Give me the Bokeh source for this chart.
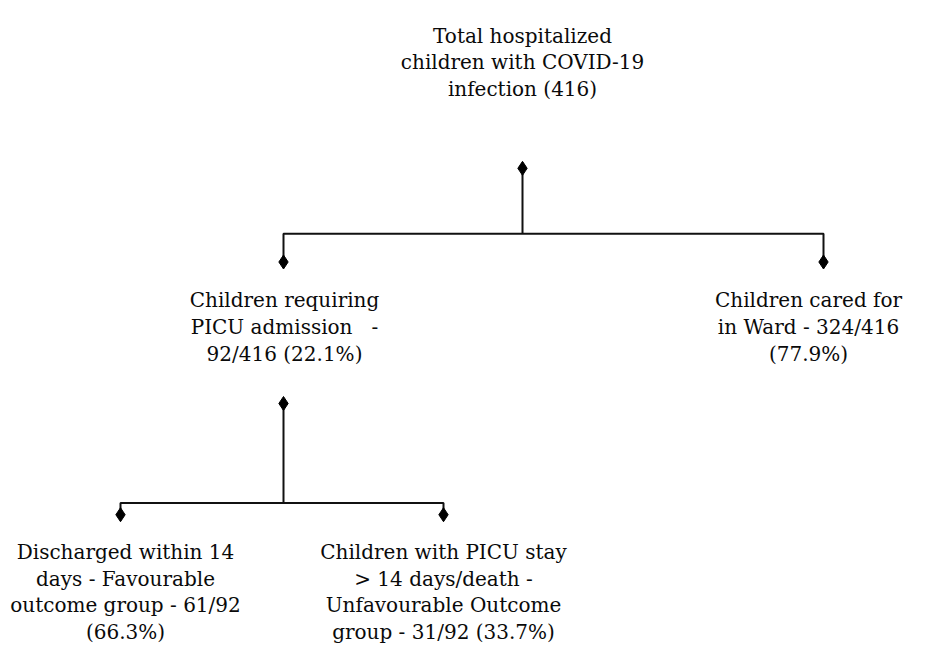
from bokeh.plotting import figure
from bokeh.embed import file_html
from bokeh.resources import INLINE
from bokeh.core.properties import value
from bokeh.models import ColumnDataSource

# Node labels (flowchart content)
top_label = ["Total hospitalized", "children with COVID-19", "infection (416)"]
picu_label = ["Children requiring", "PICU admission\u00a0\u00a0\u00a0-", "92/416 (22.1%)"]
ward_label = ["Children cared for", "in Ward - 324/416", "(77.9%)"]
fav_label = ["Discharged within 14", "days - Favourable", "outcome group - 61/92", "(66.3%)"]
unfav_label = ["Children with PICU stay", "> 14 days/death -", "Unfavourable Outcome", "group - 31/92 (33.7%)"]

W, H = 912, 644
p = figure(width=W, height=H, x_range=(6, 918), y_range=(660, 0),
           output_backend="svg", toolbar_location=None, min_border=0)
p.axis.visible = False
p.grid.visible = False
p.outline_line_color = None
p.background_fill_color = "white"

FONT = value("DejaVu Serif")
LH = 27.5

def label(lines, cx, y0):
    xs = [cx] * len(lines)
    ys = [y0 + i * LH for i in range(len(lines))]
    src = ColumnDataSource(dict(x=xs, y=ys, t=lines))
    p.text("x", "y", text="t", source=src, text_align="center", text_baseline="alphabetic",
           text_font=FONT, text_font_size="20px", text_color="#0a0a0a")

label(top_label, 528, 36)
label(picu_label, 290, 307)
label(ward_label, 814, 307)
label(fav_label, 131, 565)
label(unfav_label, 449, 565)

lc = "#111111"
lw = 2
# tree connectors
p.line([528, 528], [172, 239], line_color=lc, line_width=lw)
p.line([289, 289, 829, 829], [268, 239, 239, 268], line_color=lc, line_width=lw)
p.line([289, 289], [413, 515], line_color=lc, line_width=lw)
p.line([126, 126, 449, 449], [527, 515, 515, 527], line_color=lc, line_width=lw)

p.scatter([528, 289, 829, 289, 126, 449], [172, 268, 268, 413, 527, 527],
          marker="diamond", size=14, fill_color="black", line_color="black")

open("out.html", "w").write(file_html(p, INLINE))
